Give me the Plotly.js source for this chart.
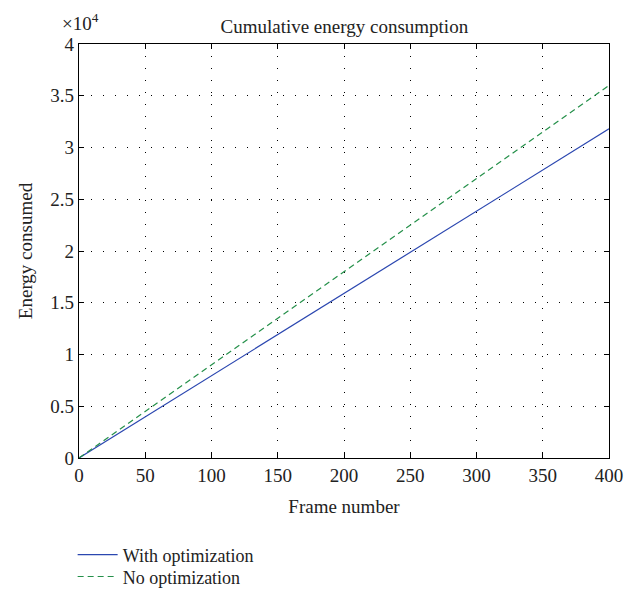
<!DOCTYPE html>
<html><head><meta charset="utf-8">
<script src="https://cdn.plot.ly/plotly-3.0.1.min.js"></script>
<style>body{margin:0;background:#fff}#c{width:640px;height:594px}</style>
</head><body><div id="c"></div>
<script>
const frames = [0, 50, 100, 150, 200, 250, 300, 350, 400];
const withOpt = [0, 3975, 7950, 11925, 15900, 19875, 23850, 27825, 31800];
const noOpt = [0, 4500, 9000, 13500, 18000, 22500, 27000, 31500, 36000];
const xTicks = [0, 50, 100, 150, 200, 250, 300, 350, 400];
const yTicks = [0, 5000, 10000, 15000, 20000, 25000, 30000, 35000, 40000];
const yTickText = ['0', '0.5', '1', '1.5', '2', '2.5', '3', '3.5', '4'];

const F = 'Liberation Serif, Times New Roman, serif';
const FS = 19;
const traces = [
  {x: frames, y: withOpt, mode: 'lines', name: 'With optimization', legend: 'legend',
   line: {color: '#2b47b0', width: 1.2}},
  {x: frames, y: noOpt, mode: 'lines', name: 'No optimization', legend: 'legend2',
   line: {color: '#25904a', width: 1.2, dash: '6px,4px'}}
];
const ax = {
  showline: true, linecolor: '#000', linewidth: 1.2, mirror: 'ticks',
  ticks: 'inside', ticklen: 5, tickcolor: '#000', tickwidth: 1,
  showgrid: true, gridcolor: '#000', gridwidth: 1, griddash: '1px,11px',
  zeroline: false, automargin: false, tickfont: {family: F, size: FS, color: '#222'}
};
const leg = (y) => ({x: -0.012, xanchor: 'left', y: y, yanchor: 'middle', orientation: 'v',
  itemwidth: 40, font: {family: F, size: 18, color: '#222'}, bgcolor: 'rgba(0,0,0,0)'});
const layout = {
  width: 640, height: 594,
  margin: {l: 79, r: 31, t: 44, b: 136, autoexpand: false},
  paper_bgcolor: '#fff', plot_bgcolor: '#fff',
  font: {family: F, color: '#222'},
  title: {text: 'Cumulative energy consumption', font: {family: F, size: FS, color: '#222'},
          x: 0.538, xanchor: 'center', y: 0.955, yanchor: 'middle'},
  xaxis: Object.assign({}, ax, {range: [0, 400], tickvals: xTicks,
    title: {text: 'Frame number', font: {family: F, size: FS, color: '#222'}, standoff: 14}}),
  yaxis: Object.assign({}, ax, {range: [0, 40000], tickvals: yTicks, ticktext: yTickText,
    title: {text: 'Energy consumed', font: {family: F, size: FS, color: '#222'}, standoff: 12}}),
  showlegend: true,
  legend: leg(-0.234),
  legend2: leg(-0.287),
  annotations: [{xref: 'paper', yref: 'paper', x: 0, y: 1, xanchor: 'center', yanchor: 'bottom',
    yshift: 8, xshift: 1, showarrow: false, text: '×10<sup>4</sup>', font: {family: F, size: FS, color: '#222'}}]
};
Plotly.newPlot('c', traces, layout, {displayModeBar: false, staticPlot: true});
</script></body></html>
